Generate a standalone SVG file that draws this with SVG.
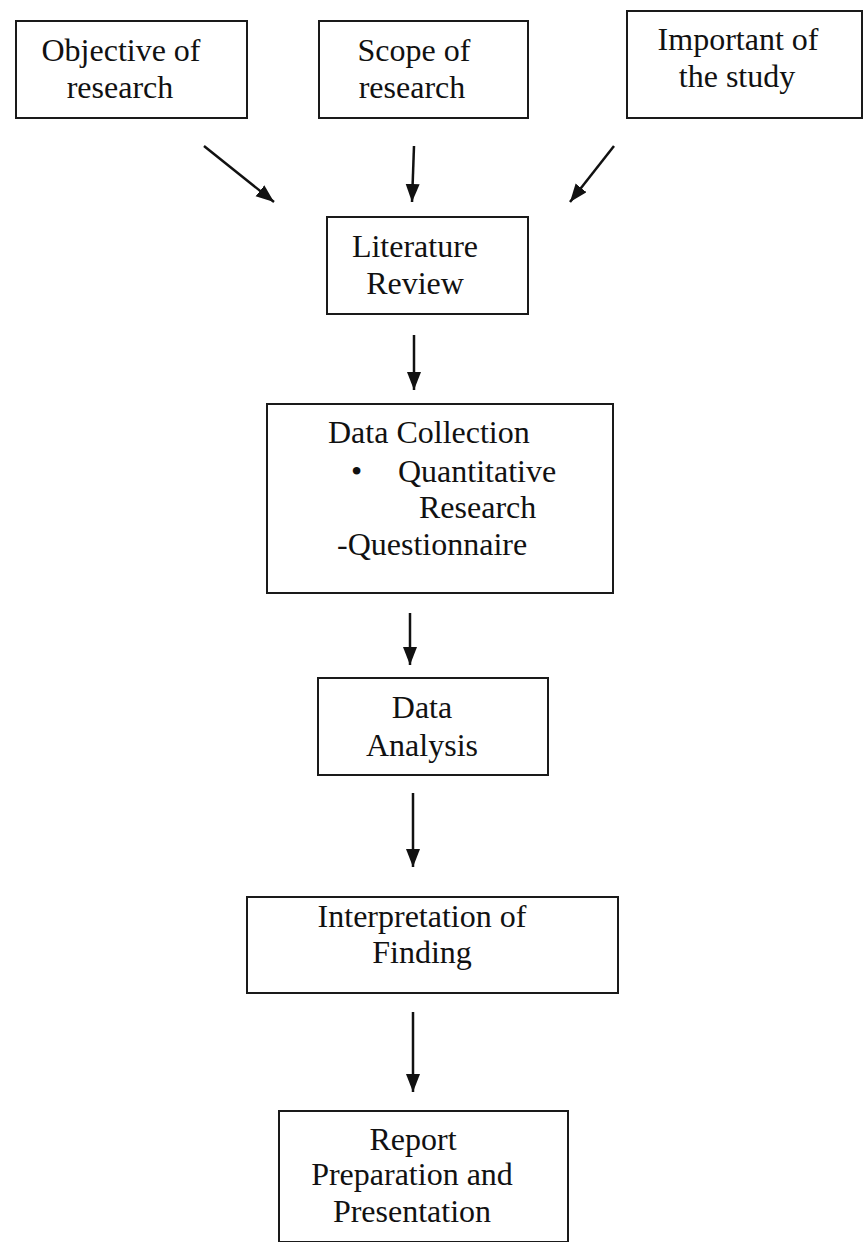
<svg xmlns="http://www.w3.org/2000/svg" width="865" height="1242" viewBox="0 0 865 1242">
  <defs>
    <marker id="ah" markerUnits="userSpaceOnUse" markerWidth="20" markerHeight="16" refX="18" refY="7" orient="auto">
      <path d="M0,0 L18,7 L0,14 z" fill="#111"/>
    </marker>
    <style>
      .box { fill: #fff; stroke: #1a1a1a; stroke-width: 2; }
      .t { font-family: "Liberation Serif", "Times New Roman", serif; font-size: 32px; fill: #111; }
      .c { text-anchor: middle; }
      .conn line { stroke: #111; stroke-width: 2.5; marker-end: url(#ah); }
    </style>
  </defs>
  <rect width="865" height="1242" fill="#fff"/>

  <g id="objective">
    <rect class="box" x="16" y="21" width="231" height="97"/>
    <text class="t c" x="121" y="61">Objective of</text>
    <text class="t c" x="120" y="98">research</text>
  </g>
  <g id="scope">
    <rect class="box" x="319" y="21" width="209" height="97"/>
    <text class="t c" x="414" y="61">Scope of</text>
    <text class="t c" x="412" y="98">research</text>
  </g>
  <g id="important">
    <rect class="box" x="627" y="11" width="235" height="107"/>
    <text class="t c" x="738" y="50">Important of</text>
    <text class="t c" x="737" y="87">the study</text>
  </g>
  <g id="literature">
    <rect class="box" x="327" y="217" width="201" height="97"/>
    <text class="t c" x="415" y="257">Literature</text>
    <text class="t c" x="415" y="294">Review</text>
  </g>
  <g id="datacollection">
    <rect class="box" x="267" y="404" width="346" height="189"/>
    <text class="t" x="328" y="443">Data Collection</text>
    <text class="t" x="351" y="482">•</text>
    <text class="t" x="398" y="482">Quantitative</text>
    <text class="t" x="419" y="518">Research</text>
    <text class="t" x="337" y="555">-Questionnaire</text>
  </g>
  <g id="dataanalysis">
    <rect class="box" x="318" y="678" width="230" height="97"/>
    <text class="t c" x="422" y="718">Data</text>
    <text class="t c" x="422" y="756">Analysis</text>
  </g>
  <g id="interpretation">
    <rect class="box" x="247" y="897" width="371" height="96"/>
    <text class="t c" x="422" y="927">Interpretation of</text>
    <text class="t c" x="422" y="963">Finding</text>
  </g>
  <g id="report">
    <rect class="box" x="279" y="1111" width="289" height="131"/>
    <text class="t c" x="413" y="1150">Report</text>
    <text class="t c" x="412" y="1185">Preparation and</text>
    <text class="t c" x="412" y="1222">Presentation</text>
  </g>

  <g id="connectors" class="conn">
    <line x1="204" y1="146" x2="274" y2="202"/>
    <line x1="414" y1="146" x2="412" y2="202"/>
    <line x1="614" y1="146" x2="570" y2="202"/>
    <line x1="414" y1="335" x2="414" y2="390"/>
    <line x1="410" y1="613" x2="410" y2="665"/>
    <line x1="413" y1="793" x2="413" y2="867"/>
    <line x1="413" y1="1012" x2="413" y2="1092"/>
  </g>
</svg>
